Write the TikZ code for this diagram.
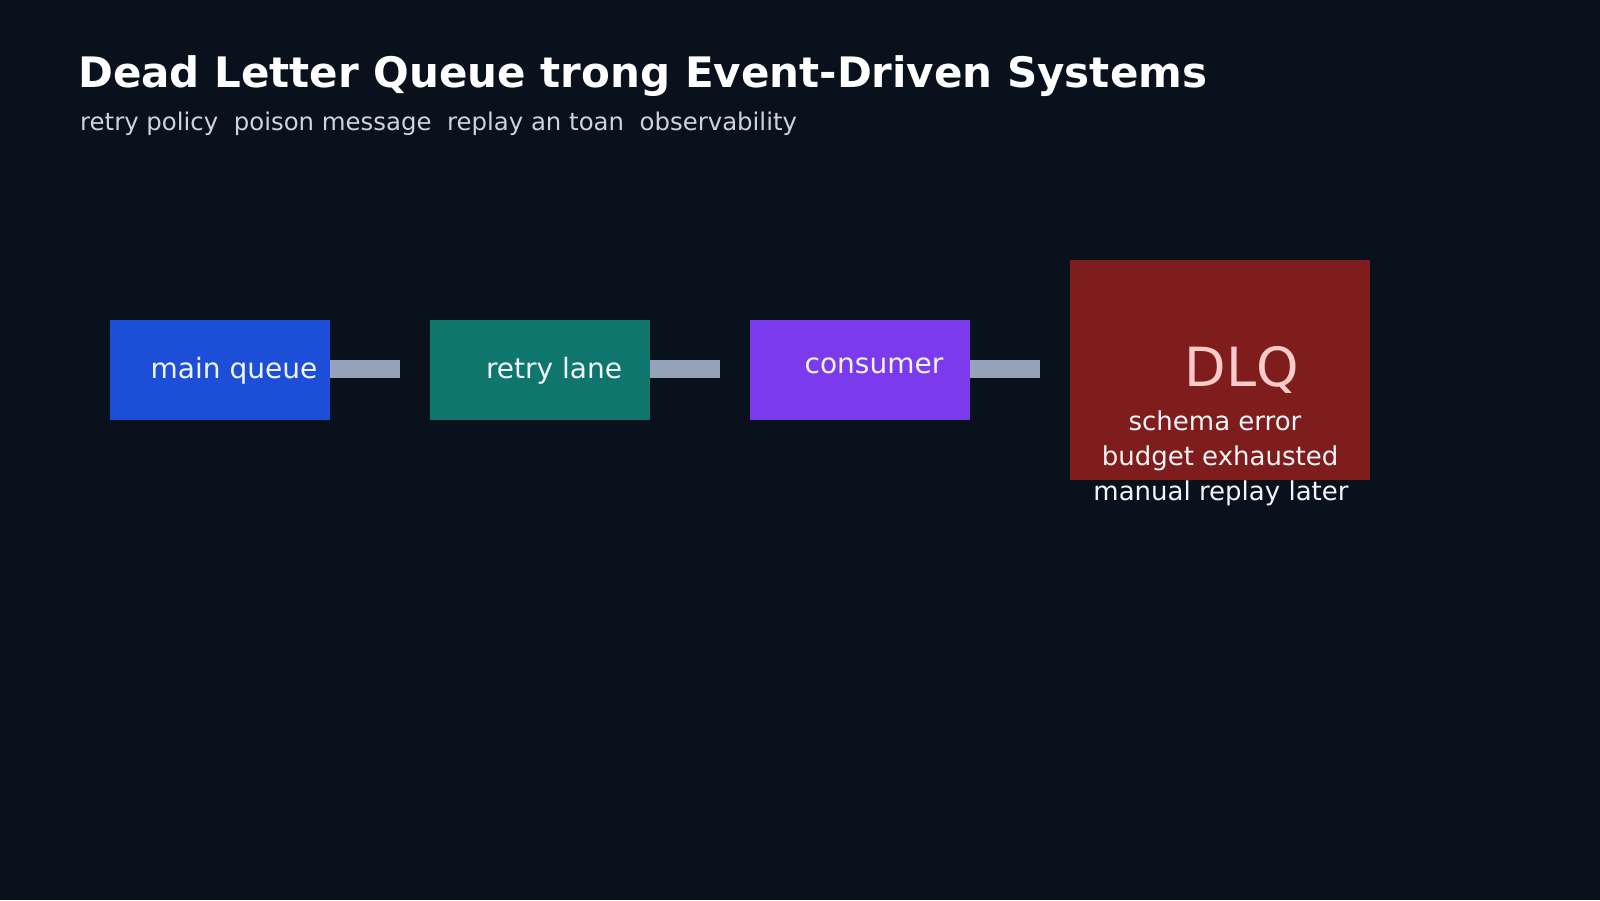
\documentclass[tikz,border=0pt]{standalone}
\usepackage{fontspec}
\setmainfont{DejaVu Sans}
\usetikzlibrary{positioning}
\definecolor{bgnavy}{HTML}{08111C}
\definecolor{qblue}{HTML}{1D4ED8}
\definecolor{qteal}{HTML}{0F766E}
\definecolor{qpurple}{HTML}{7C3AED}
\definecolor{qred}{HTML}{7F1D1D}
\definecolor{linkgray}{HTML}{94A3B8}
\definecolor{subgray}{HTML}{CBD5E1}
\definecolor{txtwhite}{HTML}{F1F5F9}
\definecolor{dlqpink}{HTML}{FECACA}

\begin{document}
\begin{tikzpicture}[
    x=1pt, y=-1pt,
    node distance=100pt,
    box/.style={rectangle,minimum width=220pt,minimum height=100pt,inner sep=0pt,outer sep=0pt},
    lbl/.style={anchor=base,inner sep=0pt,text=txtwhite,font=\fontsize{28}{34}\selectfont},
    note/.style={anchor=base,inner sep=0pt,text=txtwhite,font=\fontsize{26}{30}\selectfont},
    link/.style={draw=linkgray,line width=18pt}
]
\fill[bgnavy] (0,0) rectangle (1600,900);
\useasboundingbox (0,0) rectangle (1600,900);

\node[anchor=base west,inner sep=0pt,text=white,font=\fontsize{42}{50}\selectfont\bfseries] (title) at (78,87)
    {Dead Letter Queue trong Event-Driven Systems};
\node[anchor=base west,inner sep=0pt,text=subgray,font=\fontsize{24.4}{28}\selectfont] (subtitle) at (80,130)
    {retry policy\ \ poison message\ \ replay an toan\ \ observability};

\node[box,fill=qblue] (mq) at (220,370) {};
\node[box,fill=qteal,right=of mq] (rl) {};
\node[box,fill=qpurple,right=of rl] (cons) {};
\node[box,fill=qred,minimum width=300pt,minimum height=220pt,right=of cons] (dlq) {};

\coordinate (mqend) at ([xshift=70pt,yshift=1pt]mq.east);
\coordinate (rlend) at ([xshift=70pt,yshift=1pt]rl.east);
\coordinate (consend) at ([xshift=70pt,yshift=1pt]cons.east);
\draw[link] ([yshift=1pt]mq.east) -- (mqend);
\draw[link] ([yshift=1pt]rl.east) -- (rlend);
\draw[link] ([yshift=1pt]cons.east) -- (consend);

\node[lbl] (mqtext) at ([xshift=14pt,yshift=-8.6pt]mq.center) {main queue};
\node[lbl] (rltext) at ([xshift=14pt,yshift=-8.6pt]rl.center) {retry lane};
\node[lbl] (constext) at ([xshift=14pt,yshift=-3.5pt]cons.center) {consumer};

\node[anchor=base,inner sep=0pt,text=dlqpink,font=\fontsize{54}{62}\selectfont] (dlqtext) at ([xshift=22pt,yshift=-16pt]dlq.center) {DLQ};
\node[note] (why1) at (1215,430) {schema error};
\node[note] (why2) at (1220,465) {budget exhausted};
\node[note] (why3) at (1221,500) {manual replay later};
\end{tikzpicture}
\end{document}
